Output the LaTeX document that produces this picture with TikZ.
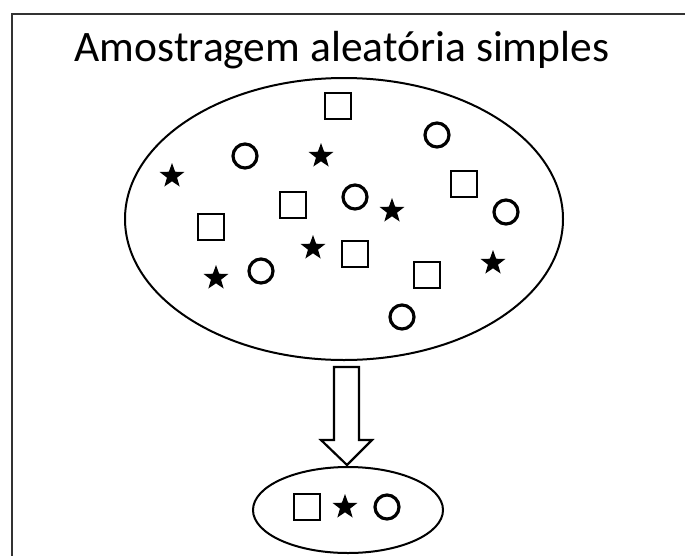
\documentclass[tikz,border=0pt]{standalone}
\usepackage{fontspec}
\setmainfont{Carlito}
\usetikzlibrary{shapes.geometric}
\tikzset{
  sq/.style={draw=black, line width=2.2pt, minimum size=26pt, inner sep=0pt, shape=rectangle},
  circ/.style={draw=black, line width=3.2pt, circle, minimum size=24pt, inner sep=0pt},
  st/.style={star, star points=5, star point ratio=2.45, fill=black, minimum size=26pt, inner sep=0pt},
  ell/.style={draw=black, line width=2pt, ellipse, inner sep=0pt},
  frame/.style={draw=black!80, line width=2.4pt},
  bigarrow/.style={draw=black, line width=2.2pt, fill=white, line join=miter}
}
\begin{document}
\begin{tikzpicture}[x=1pt,y=-1pt]
\useasboundingbox (0,0) rectangle (685,555);
\fill[white] (0,0) rectangle (685,555);
\draw[frame] (12,560) -- (12,14) -- (690,14);
\node[font=\fontsize{43.5}{50}\selectfont, anchor=base] (title) at (342,61) {Amostragem aleatória simples};
% population
\node[ell, minimum width=438pt, minimum height=282pt] (pop) at (344,219) {};
% squares
\node[sq] (s1) at (338,106) {};
\node[sq] (s2) at (464,184) {};
\node[sq] (s3) at (293,205) {};
\node[sq] (s4) at (211,227) {};
\node[sq] (s5) at (355,254) {};
\node[sq] (s6) at (427,275) {};
% circles
\node[circ] (c1) at (245,156) {};
\node[circ] (c2) at (437,135) {};
\node[circ] (c3) at (355,197) {};
\node[circ] (c4) at (506,212) {};
\node[circ] (c5) at (261,271) {};
\node[circ] (c6) at (402,317) {};
% stars
\node[st] (t1) at (172,176) {};
\node[st] (t2) at (321,156) {};
\node[st] (t3) at (392,211) {};
\node[st] (t4) at (313,248) {};
\node[st] (t5) at (216,278) {};
\node[st] (t6) at (493,263) {};
% sample
\node[ell, minimum width=190pt, minimum height=86pt] (samp) at (348,510) {};
\node[sq] (ss) at (307,507) {};
\node[st] (st1) at (345,507) {};
\node[circ] (sc) at (387,507) {};
% arrow
\draw[bigarrow] (334,367) -- (359,367) -- (359,440) -- (372,440) -- (347,465) -- (321,440) -- (334,440) -- cycle;
\end{tikzpicture}
\end{document}
